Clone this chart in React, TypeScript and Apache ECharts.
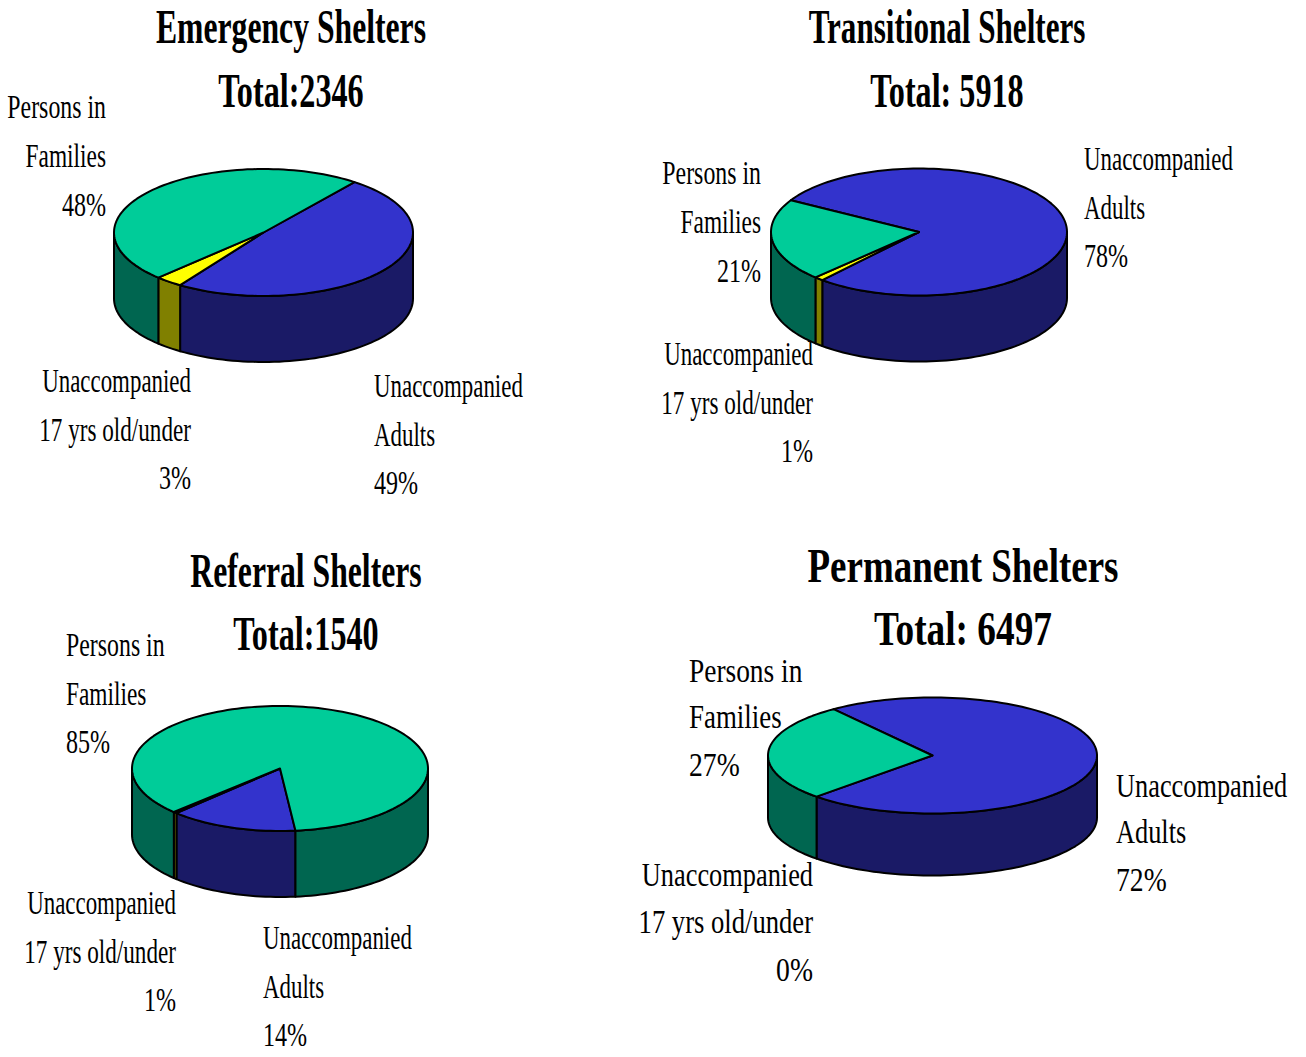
import React, { useEffect, useRef } from "react";
import * as echarts from "echarts";

const categories = ["Unaccompanied Adults", "Unaccompanied 17 yrs old/under", "Persons in Families"];
const emergencyValues = [49, 3, 48];
const transitionalValues = [78, 1, 21];
const referralValues = [14, 0.4, 85.6];
const permanentValues = [72, 0, 27];
const allValues = [emergencyValues, transitionalValues, referralValues, permanentValues];
const emergencyLabels = ["49%", "3%", "48%"];
const transitionalLabels = ["78%", "1%", "21%"];
const referralLabels = ["14%", "1%", "85%"];
const permanentLabels = ["72%", "0%", "27%"];
const allLabels = [emergencyLabels, transitionalLabels, referralLabels, permanentLabels];
const titles = ["Emergency Shelters", "Transitional Shelters", "Referral Shelters", "Permanent Shelters"];
const totals = ["Total:2346", "Total: 5918", "Total:1540", "Total: 6497"];
const labelLines = [
  ["Unaccompanied", "Adults"],
  ["Unaccompanied", "17 yrs old/under"],
  ["Persons in", "Families"],
];

const topColors = ["#3333CC", "#FFFF00", "#00CC99"];
const sideColors = ["#1A1A66", "#808000", "#006650"];
const FONT = '"Liberation Serif", "Times New Roman", serif';

// pie geometry: centre, radii, depth, angle (deg clockwise from top) where the first slice starts
const pies = [
  { cx: 263.5, cy: 232.5, rx: 149.5, ry: 63.5, depth: 66, start: 37.5 },
  { cx: 919, cy: 232, rx: 148, ry: 63.5, depth: 66, start: 300 },
  { cx: 280, cy: 768.5, rx: 148, ry: 62.5, depth: 66, start: 174 },
  { cx: 932.5, cy: 755.5, rx: 164.5, ry: 58, depth: 62, start: 323 },
];

// label placement per panel, per category: anchor x, line centres, alignment
const labelPlacement = [
  [
    { x: 374, ys: [385, 434, 482], align: "left" },
    { x: 191, ys: [380, 429, 477], align: "right" },
    { x: 106, ys: [106, 155, 204], align: "right" },
  ],
  [
    { x: 1084, ys: [158, 207, 255], align: "left" },
    { x: 813, ys: [353, 402, 450], align: "right" },
    { x: 761, ys: [172, 221, 270], align: "right" },
  ],
  [
    { x: 263, ys: [937, 986, 1034], align: "left" },
    { x: 176, ys: [902, 951, 999], align: "right" },
    { x: 66, ys: [644, 693, 741], align: "left" },
  ],
  [
    { x: 1116, ys: [786, 832, 879], align: "left" },
    { x: 813, ys: [875, 922, 969], align: "right" },
    { x: 689, ys: [670, 717, 764], align: "left" },
  ],
];
const titlePlacement = [
  { x: 291, ys: [27, 91], scale: 0.66, totalScale: 0.67 },
  { x: 947, ys: [27, 91], scale: 0.648, totalScale: 0.67 },
  { x: 306, ys: [571, 634], scale: 0.66, totalScale: 0.67 },
  { x: 963, ys: [566, 629], scale: 0.77, totalScale: 0.777 },
];
const labelScale = [0.674, 0.674, 0.674, 0.775];
const lineWiden: Record<string, number> = { "Persons in": 1.04, Families: 1.02, "17 yrs old/under": 1.01 };

const seriesData = allValues.flatMap((vals, p) => vals.map((v, s) => [p, s, v]));

function renderSlice(_params: any, api: any) {
  const p = api.value(0);
  const s = api.value(1);
  const vals = allValues[p];
  const pie = pies[p];
  const total = vals.reduce((a, b) => a + b, 0);
  const before = vals.slice(0, s).reduce((a, b) => a + b, 0);
  const a0 = pie.start + (before / total) * 360;
  const a1 = a0 + (vals[s] / total) * 360;
  if (vals[s] <= 0) return { type: "group", children: [] };
  const pt = (deg: number, dy = 0) => {
    const r = (deg * Math.PI) / 180;
    return [pie.cx + pie.rx * Math.sin(r), pie.cy - pie.ry * Math.cos(r) + dy];
  };
  const arc = (from: number, to: number, dy = 0) => {
    const n = Math.max(2, Math.ceil(Math.abs(to - from) / 2));
    const out: number[][] = [];
    for (let i = 0; i <= n; i++) out.push(pt(from + ((to - from) * i) / n, dy));
    return out;
  };
  const children: any[] = [];
  for (const k of [0, 360]) {
    const lo = Math.max(a0, 90 + k);
    const hi = Math.min(a1, 270 + k);
    if (hi > lo) {
      children.push({
        type: "polygon",
        shape: { points: [...arc(lo, hi), ...arc(hi, lo, pie.depth)] },
        style: { fill: sideColors[s], stroke: "#000", lineWidth: 2, lineJoin: "round" },
      });
    }
  }
  children.push({
    type: "polygon",
    shape: { points: [[pie.cx, pie.cy], ...arc(a0, a1)] },
    style: { fill: topColors[s], stroke: "#000", lineWidth: 2, lineJoin: "round" },
  });
  return { type: "group", children };
}

function textEl(text: string, x: number, y: number, align: string, scaleX: number, font: string) {
  return {
    type: "text",
    x,
    y,
    scaleX,
    silent: true,
    style: { text, x: 0, y: 0, align, verticalAlign: "middle", fill: "#000", font },
  };
}

function buildGraphics() {
  const els: any[] = [];
  titlePlacement.forEach((t, p) => {
    const f = `bold 48px ${FONT}`;
    els.push(textEl(titles[p], t.x, t.ys[0], "center", t.scale, f));
    els.push(textEl(totals[p], t.x, t.ys[1], "center", t.totalScale, f));
  });
  labelPlacement.forEach((cats, p) => {
    cats.forEach((c, s) => {
      const lines = [...labelLines[s], allLabels[p][s]];
      lines.forEach((line, i) => {
        const widen = i === 2 ? 1.05 : lineWiden[line] ?? 1;
        els.push(textEl(line, c.x, c.ys[i], c.align, labelScale[p] * widen, `34px ${FONT}`));
      });
    });
  });
  return els;
}

export default function App() {
  const ref = useRef<HTMLDivElement>(null);
  useEffect(() => {
    const chart = echarts.init(ref.current!, undefined, { renderer: "svg" });
    chart.setOption({
      animation: false,
      backgroundColor: "#fff",
      series: [
        {
          type: "custom",
          name: categories.join(", "),
          coordinateSystem: "none",
          renderItem: renderSlice,
          data: seriesData,
          silent: true,
        },
      ],
      graphic: { elements: buildGraphics() },
    });
    return () => chart.dispose();
  }, []);
  return <div ref={ref} style={{ position: "fixed", left: 0, top: 0, width: 1306, height: 1057 }} />;
}
